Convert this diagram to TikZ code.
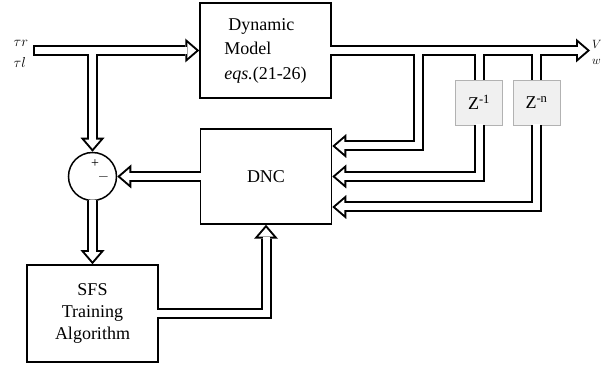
\documentclass[tikz,border=0pt]{standalone}
\usepackage{fontspec}
\setmainfont{Liberation Serif}
\usetikzlibrary{arrows.meta,positioning,calc}

\tikzset{
  block/.style={draw,line width=1.5pt,minimum width=131pt,minimum height=95pt,
                align=center,font=\fontsize{18}{22}\selectfont},
  delay/.style={draw=black!30,fill=black!6,line width=.8pt,minimum width=47pt,
                minimum height=45pt,font=\fontsize{18}{22}\selectfont},
  summer/.style={draw,circle,line width=1.5pt,minimum size=48pt,inner sep=0pt},
  sig/.style={font=\fontsize{14}{16}\selectfont},
  % hollow signal lines: drawn once black and wide, then once white and narrow
  outerpass/.style={
    wire/.style={line width=11pt},
    wirearrow/.style={wire,-{Triangle[length=14pt,width=24pt,line width=0pt]}},
    openend/.style={},
    closedend/.style={}},
  innerpass/.style={
    wire/.style={white,line width=7pt},
    wirearrow/.style={wire,-{Triangle[length=8.9pt,width=15.3pt,line width=0pt]},
                      shorten >=3.1pt},
    openend/.style={shorten <=-1.5pt},
    closedend/.style={shorten <=2pt}},
}

\newcommand{\signals}{%
  \draw[wirearrow,closedend] (in) -- (dyn.west);
  \draw[wirearrow] (tap) -- (sum.north);
  \draw[wirearrow,openend] (dnc.west) -- (sum.east);
  \draw[wirearrow,openend] (sum.south) -- (sfs.north);
  \draw[wirearrow,openend] (sfs.east) -| (dnc.south);
  \draw[wirearrow,openend] (dyn.east) -- (out);
  \draw[wirearrow] (fb) |- ([yshift=30.5pt]dnc.east);
  \draw[wire] (z1 |- out) -- (z1.north);
  \draw[wirearrow,openend] (z1.south) |- (dnc.east);
  \draw[wire] (zn |- out) -- (zn.north);
  \draw[wirearrow,openend] (zn.south) |- ([yshift=-30.5pt]dnc.east);
}

\begin{document}
\begin{tikzpicture}[x=1pt,y=1pt]
  \path[use as bounding box] (0,0) rectangle (604,366);

  \node[block,align=left,font=\fontsize{18}{24.5}\selectfont] (dyn) at (265.5,315.5)
    {\hspace*{4pt}Dynamic\\Model\\\textit{eqs.}(21-26)};
  \node[block] (dnc) at (266,189.5) {DNC};
  \node[summer] (sum) at (92.5,189.5) {};
  \node[block,minimum height=97pt] (sfs) at (92.5,52.5) {SFS\\Training\\Algorithm};
  \node[delay] (z1) at (479,263.5) {Z\textsuperscript{-1}};
  \node[delay] (zn) at (536.5,263.5) {Z\textsuperscript{-n}};

  \coordinate (in) at (33,315.5);
  \coordinate (out) at (590,315.5);
  \coordinate (tap) at (sum |- in);
  \coordinate (fb) at (418,315.5);

  \begin{scope}[outerpass] \signals \end{scope}
  \begin{scope}[innerpass] \signals \end{scope}

  \node[sig] (plus) at ([shift={(2.5,13)}]sum.center) {+};
  \node[sig] (minus) at ([shift={(11,0)}]sum.center) {$-$};

  \node[sig,anchor=west] (tr) at (10,323) {$\tau r$};
  \node[sig,anchor=west] (tl) at (10,303) {$\tau l$};
  \node[sig,anchor=west,inner sep=1pt,font=\fontsize{12}{14}\selectfont] (vout) at (591,322) {$V$};
  \node[sig,anchor=west,inner sep=1pt,font=\fontsize{12}{14}\selectfont] (wout) at (591,304) {$w$};
\end{tikzpicture}
\end{document}
